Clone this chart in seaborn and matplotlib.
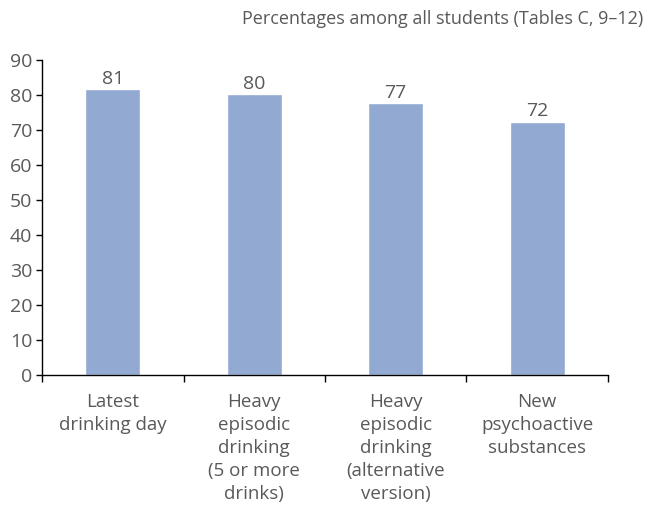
import numpy as np
import pandas as pd
import seaborn as sns
import matplotlib.pyplot as plt
from matplotlib.ticker import FixedLocator

sns.set_style("white")
plt.rcParams['font.family'] = ['Open Sans', 'DejaVu Sans']

categories = ["Latest\ndrinking day",
              "Heavy\nepisodic\ndrinking\n(5 or more\ndrinks)",
              "Heavy\nepisodic\ndrinking\n(alternative\nversion)",
              "New\npsychoactive\nsubstances"]
values = [81.6, 80.2, 77.6, 72.4]
labels = ["81", "80", "77", "72"]

df = pd.DataFrame({"cat": categories, "val": values})
grey = "#595959"

fig = plt.figure(figsize=(6.48, 5.09), dpi=100)
ax = fig.add_axes([0.065, 0.263, 0.873, 0.619])
sns.barplot(data=df, x="cat", y="val", color="#92a9d1", saturation=1, width=0.39, ax=ax)

for i, (v, t) in enumerate(zip(values, labels)):
    ax.text(i, v + 0.5, t, ha="center", va="bottom", fontsize=14, color=grey)

ax.set_xlim(-0.5, 3.5)
ax.set_ylim(0, 90)
ax.set_yticks(range(0, 91, 10))
ax.set_xlabel("")
ax.set_ylabel("")
for s in ["top", "right"]:
    ax.spines[s].set_visible(False)
for s in ["left", "bottom"]:
    ax.spines[s].set_color("black")
    ax.spines[s].set_linewidth(1)

ax.tick_params(axis="y", left=True, length=4, width=1, color="black", labelsize=14, labelcolor=grey, pad=3)
ax.tick_params(axis="x", which="major", length=0, labelsize=13.5, labelcolor=grey, pad=13)
ax.xaxis.set_minor_locator(FixedLocator(np.arange(-0.5, 3.6, 1)))
ax.tick_params(axis="x", which="minor", bottom=True, length=5, width=1, color="black")
for lab in ax.get_xticklabels():
    lab.set_linespacing(1.36)

fig.text(0.993, 0.963, "Percentages among all students (Tables C, 9\u201312)", ha="right", va="center",
         fontsize=13, color=grey)

plt.savefig("out.png", dpi=100)
